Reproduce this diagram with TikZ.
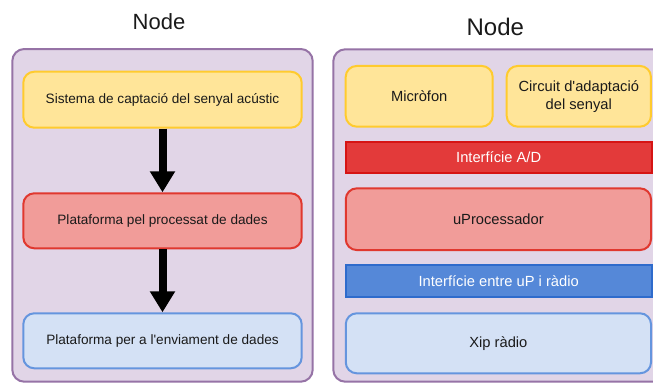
\documentclass[tikz,border=0pt]{standalone}
\usepackage{fontspec}
\setmainfont{Liberation Sans}
\usetikzlibrary{arrows.meta}
\definecolor{panelfill}{HTML}{E1D5E7}
\definecolor{paneldraw}{HTML}{9673A6}
\definecolor{yelfill}{HTML}{FFE599}
\definecolor{yeldraw}{HTML}{FFCB2E}
\definecolor{redfill}{HTML}{F19C99}
\definecolor{reddraw}{HTML}{E0382F}
\definecolor{barred}{HTML}{E33A3A}
\definecolor{barreddraw}{HTML}{D61414}
\definecolor{bluefill}{HTML}{D4E1F5}
\definecolor{bluedraw}{HTML}{6595DE}
\definecolor{barblue}{HTML}{5588D8}
\definecolor{barbluedraw}{HTML}{2E6BCC}
\definecolor{txt}{HTML}{1A1A1A}
\tikzset{
  panel/.style={draw=paneldraw, fill=panelfill, line width=2pt, rounded corners=12pt},
  box/.style={rectangle, rounded corners=11pt, line width=2pt, inner sep=0pt, align=center, text=txt},
  yelbox/.style={box, fill=yelfill, draw=yeldraw},
  redbox/.style={box, fill=redfill, draw=reddraw},
  bluebox/.style={box, fill=bluefill, draw=bluedraw},
  redbar/.style={rectangle, fill=barred, draw=barreddraw, line width=2pt, inner sep=0pt, text=white},
  bluebar/.style={rectangle, fill=barblue, draw=barbluedraw, line width=2pt, inner sep=0pt, text=white},
  lefttext/.style={font=\fontsize{13.6}{16}\selectfont},
  righttext/.style={font=\fontsize{14.7}{17.8}\selectfont},
  flow/.style={line width=8pt, -{Triangle[width=24pt,length=21pt]}},
  title/.style={text=txt}
}
\begin{document}
\begin{tikzpicture}[x=1pt,y=-1pt]
\useasboundingbox (0,0) rectangle (653,383);
\clip (0,0) rectangle (653,383);
\fill[white] (0,0) rectangle (653,383);
% titles
\node[title, font=\fontsize{22}{26}\selectfont] (t1) at (159,21.7) {Node};
\node[title, font=\fontsize{24}{28}\selectfont] (t2) at (495.3,26.7) {Node};
% panels
\draw[panel] (12.3,49) rectangle (312.7,381.7);
\draw[panel] (333.3,49.3) rectangle (668,381.7);
% left
\node[yelbox, lefttext, minimum width=278.4pt, minimum height=56pt] (capt) at (162.5,99.7) {Sistema de captació del senyal acústic};
\node[redbox, lefttext, minimum width=278.4pt, minimum height=55pt] (proc) at (162.5,220.8) {Plataforma pel processat de dades};
\node[bluebox, lefttext, minimum width=278.4pt, minimum height=55pt] (env) at (162.5,340.8) {Plataforma per a l\textquotesingle enviament de dades};
\draw[flow] (capt.south) -- (proc.north);
\draw[flow] (proc.south) -- (env.north);
% right
\node[yelbox, righttext, minimum width=147pt, minimum height=60.7pt] (mic) at (419.2,96.3) {Micròfon};
\node[yelbox, righttext, minimum width=144.3pt, minimum height=60.7pt] (circ) at (578.8,96.3) {Circuit d\textquotesingle adaptació\\del senyal};
\node[redbar, righttext, minimum width=306pt, minimum height=31pt] (ad) at (498.7,157.2) {Interfície A/D};
\node[redbox, righttext, minimum width=305.3pt, minimum height=61.7pt] (up) at (498.4,219.2) {uProcessador};
\node[bluebar, righttext, minimum width=306pt, minimum height=31.7pt] (uprad) at (498.7,280.8) {Interfície entre uP i ràdio};
\node[bluebox, righttext, minimum width=305.3pt, minimum height=60pt] (xip) at (498.4,343.3) {Xip ràdio};
\end{tikzpicture}
\end{document}
